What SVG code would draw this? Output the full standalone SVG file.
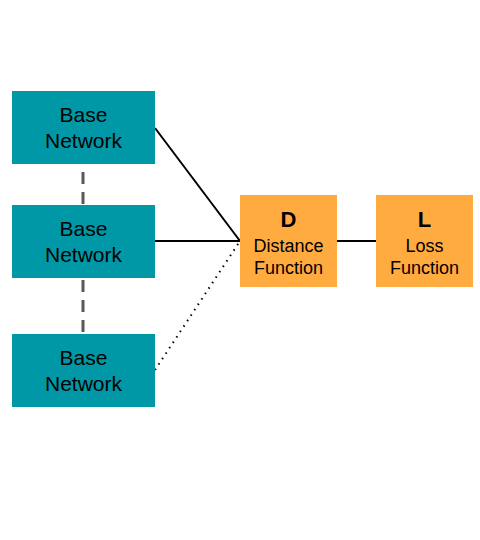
<svg xmlns="http://www.w3.org/2000/svg" width="480" height="540" viewBox="0 0 480 540">
<style>
.base{fill:#0097A7}
.fn{fill:#FFAB40}
text{font-family:"Liberation Sans",Arial,sans-serif;fill:#000;text-anchor:middle}
.t{font-size:21px}
.s{font-size:18px}
.b{font-size:22px;font-weight:bold}
.ln{stroke:#000;stroke-width:2;fill:none}
.dot{stroke:#000;stroke-width:2;fill:none;stroke-dasharray:1.5 5}
.dash{stroke:#595959;stroke-width:3;fill:none;stroke-dasharray:12 8}
</style>
<rect width="480" height="540" fill="#fff"/>
<g id="connectors">
<line class="dash" x1="83" y1="172" x2="83" y2="205"/>
<line class="dash" x1="83" y1="280" x2="83" y2="334"/>
<line class="ln" x1="155" y1="128" x2="240" y2="241"/>
<line class="ln" x1="155" y1="241" x2="240" y2="241"/>
<line class="dot" x1="155" y1="370" x2="240" y2="241"/>
<line class="ln" x1="337" y1="241" x2="376" y2="241"/>
</g>
<g id="base1">
<rect class="base" x="12" y="91" width="143" height="73"/>
<text class="t" x="83.5" y="122">Base</text>
<text class="t" x="83.5" y="148">Network</text>
</g>
<g id="base2">
<rect class="base" x="12" y="205" width="143" height="73"/>
<text class="t" x="83.5" y="236">Base</text>
<text class="t" x="83.5" y="262">Network</text>
</g>
<g id="base3">
<rect class="base" x="12" y="334" width="143" height="73"/>
<text class="t" x="83.5" y="365">Base</text>
<text class="t" x="83.5" y="391">Network</text>
</g>
<g id="distance">
<rect class="fn" x="240" y="195" width="97" height="92"/>
<text class="b" x="288.5" y="227">D</text>
<text class="s" x="288.5" y="252">Distance</text>
<text class="s" x="288.5" y="274">Function</text>
</g>
<g id="loss">
<rect class="fn" x="376" y="195" width="97" height="92"/>
<text class="b" x="424.5" y="227">L</text>
<text class="s" x="424.5" y="252">Loss</text>
<text class="s" x="424.5" y="274">Function</text>
</g>
</svg>
